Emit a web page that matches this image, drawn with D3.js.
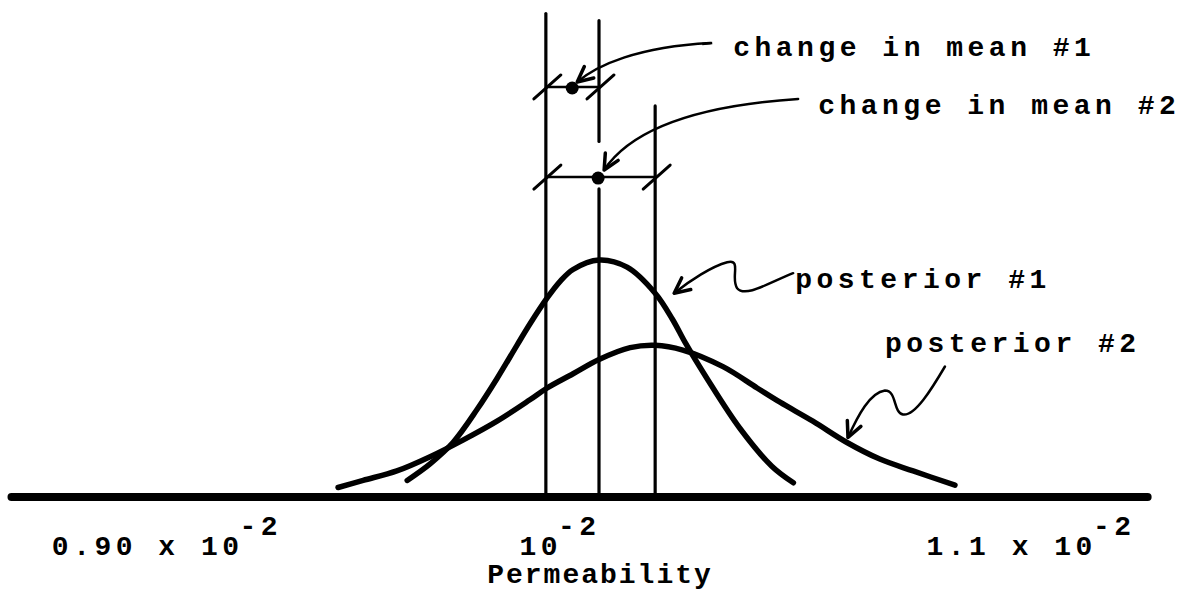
<!DOCTYPE html>
<html>
<head>
<meta charset="utf-8">
<script src="https://cdn.jsdelivr.net/npm/d3@7"></script>
<style>
  body { margin: 0; background: #fff; }
  .lbl {
    font-family: 'Liberation Mono', 'DejaVu Sans Mono', monospace;
    font-weight: bold;
    font-size: 28px;
    fill: #000;
    letter-spacing: 4.5px;
  }
</style>
</head>
<body>
<div class="chart"></div>
<script>
// permeability in units of 10^-2
var tickValues = [0.90, 1.00, 1.10];
var tickLabels = ['0.90 x 10', '10', '1.1 x 10'];
var tickPowers = ['-2', '-2', '-2'];
var axisExtent = [0.864, 1.127];

// curve points (height relative to posterior #1 peak = 100)
var post1X = [0.9556, 0.9609, 0.9662, 0.9718, 0.9764, 0.9810, 0.9840, 0.9880, 0.9910, 0.9940,
              1.0000, 1.0065, 1.0130, 1.0170, 1.0200, 1.0250, 1.0326, 1.0400, 1.0450];
var post1Y = [7, 14, 23, 37, 50, 64, 73, 84, 91, 96, 100, 97, 86, 75, 65, 50, 29, 13, 6];

var post2X = [0.9396, 0.9454, 0.9532, 0.9609, 0.9685, 0.9764, 0.9840, 0.9880, 0.9940, 1.0000,
              1.0072, 1.0130, 1.0194, 1.0287, 1.0366, 1.0419, 1.0495, 1.0574, 1.0650, 1.0727, 1.0824];
var post2Y = [4, 7, 11, 17, 24, 32, 41, 46, 52, 58, 63, 64, 62, 55, 46, 40, 32, 23, 16, 11, 5];

// vertical lines: prior mean, posterior #1 mean, posterior #2 mean
var meanX = [0.9877, 1.000, 1.013];
var meanTop = [204, 201, 165];
var middleGap = [130, 150];

// change in mean brackets
var changeFrom = [0.9877, 0.9877];
var changeTo = [1.000, 1.013];
var changeLevel = [173, 135];
var changeDotX = [0.9938, 0.9998];
var changeLabels = ['change in mean #1', 'change in mean #2'];

// posterior labels, pointed at these curve points
var postLabels = ['posterior #1', 'posterior #2'];
var postPointX = [1.013, 1.0574];
var postPointY = [86, 23];

var svgWidth = 1188;
var svgHeight = 594;

var svg = d3.select('.chart')
  .append('svg')
  .attr('width', svgWidth)
  .attr('height', svgHeight);

var x = d3.scaleLinear()
  .domain([0.90, 1.10])
  .range([167, 1031]);

var y = d3.scaleLinear()
  .domain([0, 100])
  .range([497, 260]);

// thick baseline
svg.append('line')
  .attr('x1', x(axisExtent[0]))
  .attr('x2', x(axisExtent[1]))
  .attr('y1', y(0))
  .attr('y2', y(0))
  .attr('stroke', '#000')
  .attr('stroke-width', 8)
  .attr('stroke-linecap', 'round');

// tick labels with the exponent raised
var labelShift = [0, -39, 0];
var ticks = svg.selectAll('.tick')
  .data(tickValues)
  .enter()
  .append('text')
  .attr('class', 'lbl')
  .attr('x', (d, i) => x(d) + labelShift[i])
  .attr('y', 555)
  .attr('text-anchor', 'middle');
ticks.append('tspan').text((d, i) => tickLabels[i]);
ticks.append('tspan').attr('dx', -4).attr('dy', -20).text((d, i) => tickPowers[i]);

svg.append('text')
  .attr('class', 'lbl')
  .attr('x', 600)
  .attr('y', 583)
  .attr('text-anchor', 'middle')
  .style('letter-spacing', '2px')
  .text('Permeability');

// vertical mean lines (the middle one is broken under the bracket dot)
var segs = [];
meanX.forEach(function(m, i) {
  if (i === 1) {
    segs.push([m, 0, middleGap[0]]);
    segs.push([m, middleGap[1], meanTop[i]]);
  } else {
    segs.push([m, 0, meanTop[i]]);
  }
});
svg.selectAll('.mean')
  .data(segs)
  .enter()
  .append('line')
  .attr('x1', d => x(d[0]))
  .attr('x2', d => x(d[0]))
  .attr('y1', d => y(d[1]))
  .attr('y2', d => y(d[2]))
  .attr('stroke', '#000')
  .attr('stroke-width', 3.2)
  .attr('stroke-linecap', 'round');

// posterior curves
var line = d3.line()
  .x(d => x(d[0]))
  .y(d => y(d[1]))
  .curve(d3.curveCatmullRom.alpha(0.5));

[[post1X, post1Y], [post2X, post2Y]].forEach(function(s) {
  svg.append('path')
    .datum(d3.zip(s[0], s[1]))
    .attr('d', line)
    .attr('fill', 'none')
    .attr('stroke', '#000')
    .attr('stroke-width', 5.5)
    .attr('stroke-linecap', 'round');
});

function arrowHead(tip, from) {
  var a = Math.atan2(from[1] - tip[1], from[0] - tip[0]);
  var len = 17, spread = 0.45;
  var p = 'M' + (tip[0] + len * Math.cos(a - spread)) + ',' + (tip[1] + len * Math.sin(a - spread)) +
    'L' + tip[0] + ',' + tip[1] +
    'L' + (tip[0] + len * Math.cos(a + spread)) + ',' + (tip[1] + len * Math.sin(a + spread));
  svg.append('path')
    .attr('d', p)
    .attr('fill', 'none')
    .attr('stroke', '#000')
    .attr('stroke-width', 3.5)
    .attr('stroke-linejoin', 'round')
    .attr('stroke-linecap', 'round');
}

function squiggle(ox, oy, d) {
  svg.append('path')
    .attr('transform', `translate(${ox}, ${oy})`)
    .attr('d', d)
    .attr('fill', 'none')
    .attr('stroke', '#000')
    .attr('stroke-width', 2.5)
    .attr('stroke-linecap', 'round');
}

// change in mean brackets
var bracketArrows = [
  {path: 'M5,-5 C25,-22 65,-40 138,-44', tip: [5, -5], from: [22, -19], label: [161, -31]},
  {path: 'M6,-7 C28,-40 80,-70 200,-78', tip: [6, -7], from: [18, -28], label: [220, -63]}
];
changeLabels.forEach(function(lab, i) {
  var yy = y(changeLevel[i]);
  var x0 = x(changeFrom[i]), x1 = x(changeTo[i]);
  svg.append('line')
    .attr('x1', x0).attr('x2', x1)
    .attr('y1', yy).attr('y2', yy)
    .attr('stroke', '#000')
    .attr('stroke-width', 2.5);
  [x0, x1].forEach(function(xe) {
    svg.append('line')
      .attr('x1', xe - 12).attr('y1', yy + 12)
      .attr('x2', xe + 15).attr('y2', yy - 12)
      .attr('stroke', '#000')
      .attr('stroke-width', 3)
      .attr('stroke-linecap', 'round');
  });
  var cx = x(changeDotX[i]);
  svg.append('circle')
    .attr('cx', cx)
    .attr('cy', yy + 1)
    .attr('r', 6.5)
    .attr('fill', '#000');
  var b = bracketArrows[i];
  squiggle(cx, yy, b.path);
  arrowHead([cx + b.tip[0], yy + b.tip[1]], [cx + b.from[0], yy + b.from[1]]);
  svg.append('text')
    .attr('class', 'lbl')
    .attr('x', cx + b.label[0])
    .attr('y', yy + b.label[1])
    .text(lab);
});

// dash in front of the first label
svg.append('line')
  .attr('x1', x(changeDotX[0]) + 130).attr('x2', x(changeDotX[0]) + 140)
  .attr('y1', y(changeLevel[0]) - 43).attr('y2', y(changeLevel[0]) - 44)
  .attr('stroke', '#000').attr('stroke-width', 2.5);

// posterior labels with wavy arrows
var postArrows = [
  {path: 'M19,0 C35,-13 57,-27 72,-31 C87,-35 75,-15 82,-5 C90,5 115,-11 138,-20', tip: [19, 0], from: [33, -11], label: [140, -5]},
  {path: 'M1,-5 C11,-27 23,-50 38,-52 C50,-52 46,-30 56,-28 C68,-26 85,-54 98,-76', tip: [1, -5], from: [8, -21], label: [38, -90]}
];
postLabels.forEach(function(lab, i) {
  var px = x(postPointX[i]), py = y(postPointY[i]);
  var a = postArrows[i];
  squiggle(px, py, a.path);
  arrowHead([px + a.tip[0], py + a.tip[1]], [px + a.from[0], py + a.from[1]]);
  svg.append('text')
    .attr('class', 'lbl')
    .attr('x', px + a.label[0])
    .attr('y', py + a.label[1])
    .text(lab);
});
</script>
</body>
</html>
